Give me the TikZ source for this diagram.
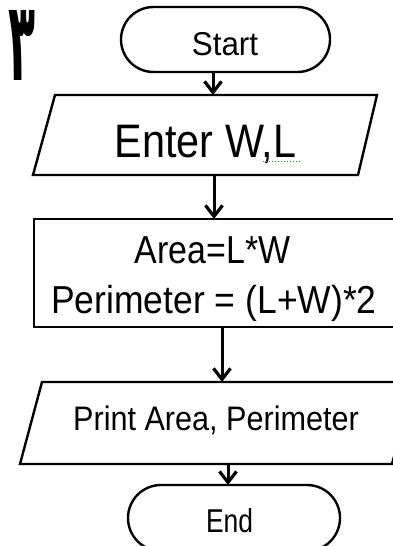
\documentclass[tikz,border=0pt]{standalone}
\usepackage{fontspec}
\usepackage{graphicx}
\setmainfont{Liberation Sans}
\newfontfamily\arabicfont[Script=Arabic]{DejaVu Sans}
\usetikzlibrary{shapes.misc,arrows.meta}
\TeXXeTstate=1
\tikzset{
  shapeline/.style={draw=black,line width=2.4pt},
  term/.style={shapeline,rounded rectangle,inner sep=0pt},
  txt/.style={anchor=base,inner sep=0pt,text=black},
  arr/.style={line width=3pt,-{Straight Barb[length=11pt,width=17pt,line width=3.2pt]}},
}
\newcommand{\fs}[2]{\fontsize{#1}{#1}\selectfont\scalebox{#2}[1]}
\begin{document}
\begin{tikzpicture}[x=1pt,y=-1pt]
\clip (0,0) rectangle (393,546);
\fill[white] (0,0) rectangle (393,546);

% Arabic numeral
\node[anchor=north west,inner sep=0pt] (num) at (8,10)
  {\resizebox*{27pt}{70pt}{\arabicfont\bfseries\beginR ٣\endR}};

% Start
\node[term,minimum width=209pt,minimum height=65pt] (start) at (225.5,39.5) {};
\node[txt] (tstart) at (225,55) {\fs{33}{0.95}{Start}};

% Enter W,L
\coordinate (e1) at (33,175);
\coordinate (e2) at (358,175);
\coordinate (e3) at (377,95);
\coordinate (e4) at (55,95);
\draw[shapeline,line join=miter] (e1) -- (e2) -- (e3) -- (e4) -- cycle;
\node[txt] (tenter) at (205.5,157) {\fs{47}{0.88}{Enter W,L}};
\draw[green!70!black,line width=1pt,dotted] (263,161) -- (302,161);

% Process box
\node[shapeline,minimum width=366pt,minimum height=108pt,inner sep=0pt] (box) at (217,273) {};
\node[txt] (tarea) at (212.5,263) {\fs{39}{0.87}{Area=L*W}};
\node[txt] (tper) at (214,313) {\fs{39}{0.91}{Perimeter = (L+W)*2}};

% Print
\coordinate (p1) at (20,464);
\coordinate (p2) at (392,464);
\coordinate (p3) at (414,382);
\coordinate (p4) at (42,382);
\draw[shapeline,line join=miter] (p1) -- (p2) -- (p3) -- (p4) -- cycle;
\node[txt] (tprint) at (216,430) {\fs{34}{0.9}{Print Area, Perimeter}};

% End
\node[term,minimum width=212pt,minimum height=66pt] (endn) at (234,518) {};
\node[txt] (tend) at (229.5,532) {\fs{33}{0.8}{End}};

% connectors
\coordinate (a1s) at (213,72);
\coordinate (a1e) at (213,95);
\coordinate (a2s) at (214,175);
\coordinate (a2e) at (214,219);
\coordinate (a3s) at (222,327);
\coordinate (a3e) at (222,382);
\coordinate (a4s) at (228,464);
\coordinate (a4e) at (228,485);
\draw[arr] (a1s) -- (a1e);
\draw[arr] (a2s) -- (a2e);
\draw[arr] (a3s) -- (a3e);
\draw[arr] (a4s) -- (a4e);
\end{tikzpicture}
\end{document}
